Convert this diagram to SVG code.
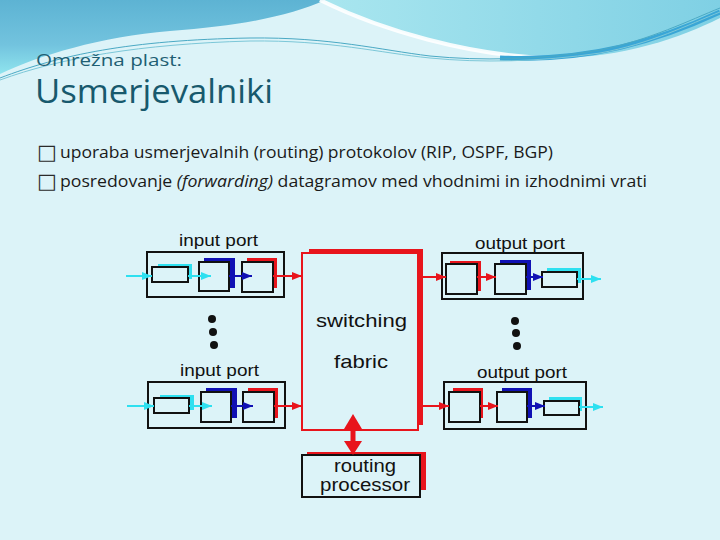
<svg xmlns="http://www.w3.org/2000/svg" width="720" height="540" viewBox="0 0 720 540">
<defs>
<linearGradient id="gTop" x1="0" y1="0" x2="0" y2="1">
<stop offset="0" stop-color="#5db3d3"/>
<stop offset="0.6" stop-color="#72c3de"/>
<stop offset="1" stop-color="#8fe4ee"/>
</linearGradient>
<linearGradient id="gRight" x1="0" y1="0" x2="1" y2="0">
<stop offset="0" stop-color="#a9e6ef"/>
<stop offset="1" stop-color="#7fd0e4"/>
</linearGradient>
<marker id="aR" viewBox="0 0 10 8" refX="10" refY="4" markerWidth="10" markerHeight="8" markerUnits="userSpaceOnUse" orient="auto"><path d="M0,0 L10,4 L0,8 Z" fill="#e8141c"/></marker>
<marker id="aB" viewBox="0 0 10 8" refX="10" refY="4" markerWidth="10" markerHeight="8" markerUnits="userSpaceOnUse" orient="auto"><path d="M0,0 L10,4 L0,8 Z" fill="#1010b4"/></marker>
<marker id="aC" viewBox="0 0 10 8" refX="10" refY="4" markerWidth="10" markerHeight="8" markerUnits="userSpaceOnUse" orient="auto"><path d="M0,0 L10,4 L0,8 Z" fill="#2ee0f0"/></marker>
</defs>
<style>
.lbl{font-family:"Liberation Sans",Arial,sans-serif;fill:#111;}
.box{fill:#dcf3f8;stroke:#111;stroke-width:2;}
.shR{fill:#e8141c;}
.shB{fill:#1010b4;}
.shC{fill:#2ee0f0;}
.cR{stroke:#e8141c;stroke-width:2;fill:none;marker-end:url(#aR);}
.cB{stroke:#1010b4;stroke-width:2;fill:none;marker-end:url(#aB);}
.cC{stroke:#2ee0f0;stroke-width:2;fill:none;marker-end:url(#aC);}
.dot{fill:#111;}
.body{font-family:"Open Sans","Noto Sans",sans-serif;fill:#1a1a1a;font-size:16px;}
.sq{font-family:"DejaVu Sans",sans-serif;fill:#2a2a2a;font-size:21px;}
</style>
<rect x="0" y="0" width="720" height="540" fill="#dcf3f8"/>
<g id="decor">
<path d="M320,0 C380,30 470,56 550,58 C620,59 680,38 720,18 V0 Z" fill="url(#gRight)"/>
<path d="M0,0 H325 C290,16 240,26 170,31 C100,37 40,55 0,74 Z" fill="url(#gTop)"/>
<path d="M320,0 C380,30 470,56 550,58" stroke="#ffffff" stroke-width="4" fill="none" opacity="0.9"/>
<path d="M500,58 C590,62 660,40 720,12" stroke="#3aa6d6" stroke-width="5" fill="none"/>
<path d="M0,78 C60,55 130,40 250,38 C330,37 380,50 430,56 C480,61 540,60 600,50 C650,40 690,20 720,8" stroke="#4aa9c4" stroke-width="1" fill="none"/>
<path d="M0,80 C60,58 140,44 250,41 C330,40 380,53 430,58 C480,63 540,62 600,53 C650,44 690,24 720,12" stroke="#7cc7d8" stroke-width="1" fill="none"/>
</g>
<g id="title">
<text x="36" y="66" font-family="'Open Sans','Noto Sans',sans-serif" font-size="17" fill="#1f5f73" textLength="146" lengthAdjust="spacingAndGlyphs">Omrežna plast:</text>
<text x="35" y="103" font-family="'Open Sans','Noto Sans',sans-serif" font-size="33" fill="#17596d" textLength="238" lengthAdjust="spacingAndGlyphs">Usmerjevalniki</text>
</g>
<g id="bullets">
<text x="37" y="159" class="sq">□</text>
<text x="60" y="158" class="body" textLength="493" lengthAdjust="spacingAndGlyphs">uporaba usmerjevalnih (routing) protokolov (RIP, OSPF, BGP)</text>
<text x="37" y="188" class="sq">□</text>
<text x="60" y="187" class="body" textLength="587" lengthAdjust="spacingAndGlyphs">posredovanje <tspan font-style="italic">(forwarding)</tspan> datagramov med vhodnimi in izhodnimi vrati</text>
</g>
<g id="input-port-1">
<text class="lbl" x="179" y="246" font-size="17" textLength="79" lengthAdjust="spacingAndGlyphs">input port</text>
<rect class="box" x="147" y="252" width="137" height="45"/>
<rect class="shC" x="158" y="264" width="34" height="15"/>
<rect class="box" x="152" y="267" width="36" height="15"/>
<rect class="shB" x="204" y="258" width="31" height="30"/>
<rect class="box" x="199" y="262" width="30" height="29"/>
<rect class="shR" x="247" y="258" width="30" height="30"/>
<rect class="box" x="242" y="262" width="31" height="30"/>
</g>
<g id="input-port-2">
<text class="lbl" x="180" y="376" font-size="17" textLength="79" lengthAdjust="spacingAndGlyphs">input port</text>
<rect class="box" x="148" y="382" width="137" height="46"/>
<rect class="shC" x="160" y="395" width="34" height="15"/>
<rect class="box" x="154" y="398" width="35" height="15"/>
<rect class="shB" x="206" y="388" width="31" height="30"/>
<rect class="box" x="201" y="392" width="30" height="30"/>
<rect class="shR" x="248" y="388" width="30" height="30"/>
<rect class="box" x="243" y="392" width="31" height="30"/>
</g>
<g id="switching-fabric">
<rect x="309" y="249" width="114" height="176" fill="#e8141c"/>
<rect x="302" y="253" width="116" height="177" fill="#dcf3f8" stroke="#e8141c" stroke-width="2"/>
<text class="lbl" x="316" y="327" font-size="19" textLength="91" lengthAdjust="spacingAndGlyphs">switching</text>
<text class="lbl" x="334" y="368" font-size="19" textLength="54" lengthAdjust="spacingAndGlyphs">fabric</text>
</g>
<g id="output-port-1">
<text class="lbl" x="475" y="249" font-size="17" textLength="90" lengthAdjust="spacingAndGlyphs">output port</text>
<rect class="box" x="442" y="253" width="141" height="46"/>
<rect class="shR" x="450" y="261" width="31" height="30"/>
<rect class="box" x="446" y="264" width="31" height="30"/>
<rect class="shB" x="500" y="260" width="31" height="30"/>
<rect class="box" x="495" y="264" width="31" height="30"/>
<rect class="shC" x="547" y="268" width="34" height="15"/>
<rect class="box" x="542" y="272" width="35" height="15"/>
</g>
<g id="output-port-2">
<text class="lbl" x="477" y="378" font-size="17" textLength="90" lengthAdjust="spacingAndGlyphs">output port</text>
<rect class="box" x="444" y="382" width="142" height="47"/>
<rect class="shR" x="453" y="388" width="30" height="30"/>
<rect class="box" x="449" y="392" width="31" height="30"/>
<rect class="shB" x="502" y="388" width="30" height="30"/>
<rect class="box" x="497" y="392" width="30" height="30"/>
<rect class="shC" x="549" y="397" width="33" height="14"/>
<rect class="box" x="544" y="401" width="35" height="14"/>
</g>
<g id="routing-processor">
<rect x="307" y="452" width="119" height="38" fill="#e8141c"/>
<rect class="box" x="302" y="455" width="118" height="42"/>
<text class="lbl" x="334" y="472" font-size="18" textLength="62" lengthAdjust="spacingAndGlyphs">routing</text>
<text class="lbl" x="320" y="491" font-size="18" textLength="90" lengthAdjust="spacingAndGlyphs">processor</text>
</g>
<g id="dots-left">
<circle class="dot" cx="212" cy="319" r="4"/>
<circle class="dot" cx="213" cy="332" r="4"/>
<circle class="dot" cx="214" cy="345" r="4"/>
</g>
<g id="dots-right">
<circle class="dot" cx="515" cy="321" r="4"/>
<circle class="dot" cx="516" cy="333" r="4"/>
<circle class="dot" cx="517" cy="346" r="4"/>
</g>
<g id="connectors">
<line class="cC" x1="126" y1="276" x2="152" y2="276"/>
<line class="cC" x1="188" y1="276" x2="211" y2="276"/>
<line class="cB" x1="229" y1="276" x2="252" y2="276"/>
<line class="cR" x1="273" y1="276" x2="302" y2="276"/>
<line class="cC" x1="127" y1="406" x2="154" y2="406"/>
<line class="cC" x1="189" y1="406" x2="212" y2="406"/>
<line class="cB" x1="231" y1="406" x2="253" y2="406"/>
<line class="cR" x1="274" y1="406" x2="302" y2="406"/>
<line class="cR" x1="423" y1="277" x2="446" y2="277"/>
<line class="cR" x1="477" y1="277" x2="496" y2="277"/>
<line class="cB" x1="526" y1="277" x2="543" y2="277"/>
<line class="cC" x1="577" y1="279" x2="601" y2="279"/>
<line class="cR" x1="423" y1="406" x2="449" y2="406"/>
<line class="cR" x1="480" y1="406" x2="498" y2="406"/>
<line class="cB" x1="527" y1="406" x2="545" y2="406"/>
<line class="cC" x1="579" y1="407" x2="603" y2="407"/>
<line x1="353" y1="427" x2="353" y2="443" stroke="#e8141c" stroke-width="5"/>
<path d="M353,414 L344,429 L362,429 Z" fill="#e8141c"/>
<path d="M353,455 L344,441 L362,441 Z" fill="#e8141c"/>
</g>
</svg>
